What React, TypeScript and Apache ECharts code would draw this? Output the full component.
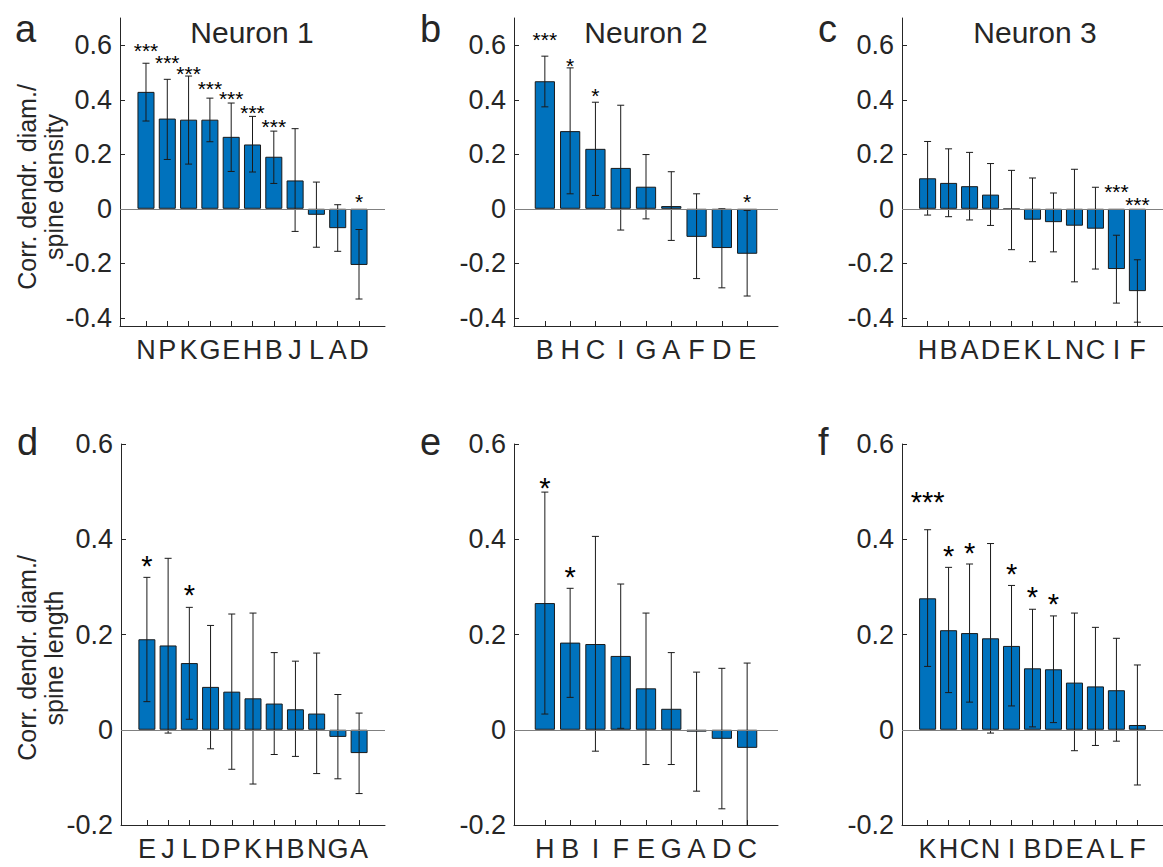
import React, { useEffect, useRef } from "react";
import * as echarts from "echarts";

// ---- Panel a (Neuron 1, spine density)
const catsA = ["N", "P", "K", "G", "E", "H", "B", "J", "L", "A", "D"];
const valsA = [0.429, 0.331, 0.327, 0.327, 0.264, 0.236, 0.191, 0.104, -0.022, -0.071, -0.206];
const hiA = [0.534, 0.475, 0.487, 0.406, 0.388, 0.339, 0.285, 0.294, 0.098, 0.015, -0.076];
const loA = [0.322, 0.181, 0.164, 0.246, 0.137, 0.135, 0.093, -0.083, -0.141, -0.156, -0.331];
const starIdxA = [1, 2, 3, 4, 5, 6, 7, 11];
const starYA = [0.6, 0.553, 0.514, 0.46, 0.421, 0.372, 0.32, 0.043];
const starTxtA = ["***", "***", "***", "***", "***", "***", "***", "*"];

// ---- Panel b (Neuron 2, spine density)
const catsB = ["B", "H", "C", "I", "G", "A", "F", "D", "E"];
const valsB = [0.468, 0.285, 0.22, 0.15, 0.081, 0.01, -0.103, -0.144, -0.165];
const hiB = [0.56, 0.517, 0.391, 0.38, 0.199, 0.136, 0.055, 0.0, -0.006];
const loB = [0.374, 0.055, 0.049, -0.078, -0.037, -0.116, -0.256, -0.29, -0.32];
const starIdxB = [1, 2, 3, 9];
const starYB = [0.639, 0.544, 0.432, 0.043];
const starTxtB = ["***", "*", "*", "*"];

// ---- Panel c (Neuron 3, spine density)
const catsC = ["H", "B", "A", "D", "E", "K", "L", "N", "C", "I", "F"];
const valsC = [0.112, 0.095, 0.083, 0.052, -0.002, -0.04, -0.049, -0.062, -0.073, -0.221, -0.302];
const hiC = [0.247, 0.22, 0.207, 0.166, 0.141, 0.113, 0.058, 0.145, 0.079, -0.097, -0.187];
const loC = [-0.023, -0.029, -0.041, -0.061, -0.15, -0.194, -0.158, -0.268, -0.221, -0.346, -0.416];
const starIdxC = [10, 11];
const starYC = [0.083, 0.034];
const starTxtC = ["***", "***"];

// ---- Panel d (Neuron 1, spine length)
const catsD = ["E", "J", "L", "D", "P", "K", "H", "B", "N", "G", "A"];
const valsD = [0.19, 0.177, 0.14, 0.09, 0.08, 0.066, 0.055, 0.043, 0.034, -0.015, -0.049];
const hiD = [0.32, 0.36, 0.257, 0.219, 0.243, 0.245, 0.162, 0.144, 0.161, 0.074, 0.035];
const loD = [0.059, -0.007, 0.022, -0.04, -0.083, -0.114, -0.052, -0.056, -0.092, -0.103, -0.134];
const starIdxD = [1, 3];
const starYD = [0.357, 0.296];
const starTxtD = ["*", "*"];

// ---- Panel e (Neuron 2, spine length)
const catsE = ["H", "B", "I", "F", "E", "G", "A", "D", "C"];
const valsE = [0.266, 0.183, 0.18, 0.155, 0.087, 0.044, -0.004, -0.019, -0.038];
const hiE = [0.499, 0.297, 0.406, 0.306, 0.245, 0.162, 0.121, 0.129, 0.14];
const loE = [0.033, 0.068, -0.045, 0.003, -0.073, -0.073, -0.129, -0.166, -0.215];
const starIdxE = [1, 2];
const starYE = [0.522, 0.334];
const starTxtE = ["*", "*"];

// ---- Panel f (Neuron 3, spine length)
const catsF = ["K", "H", "C", "N", "I", "B", "D", "E", "A", "L", "F"];
const valsF = [0.276, 0.209, 0.203, 0.192, 0.176, 0.129, 0.127, 0.099, 0.091, 0.083, 0.01];
const hiF = [0.42, 0.341, 0.348, 0.391, 0.303, 0.253, 0.239, 0.245, 0.215, 0.192, 0.136];
const loF = [0.133, 0.078, 0.058, -0.007, 0.05, 0.006, 0.015, -0.044, -0.033, -0.024, -0.116];
const starIdxF = [1, 2, 3, 5, 6, 7];
const starYF = [0.493, 0.378, 0.385, 0.341, 0.292, 0.278];
const starTxtF = ["***", "*", "*", "*", "*", "*"];

const topTicks = [-0.4, -0.2, 0, 0.2, 0.4, 0.6];
const bottomTicks = [-0.2, 0, 0.2, 0.4, 0.6];
const titles = ["Neuron 1", "Neuron 2", "Neuron 3"];
const panelLetters = ["a", "b", "c", "d", "e", "f"];
const yLabelTop = "Corr. dendr. diam./\nspine density";
const yLabelBottom = "Corr. dendr. diam./\nspine length";

const FONT = "'Liberation Sans', Arial, Helvetica, sans-serif";
const INK = "#262626";

export default function App() {
  const ref = useRef<HTMLDivElement>(null);

  useEffect(() => {
    if (!ref.current) return;
    const chart = echarts.init(ref.current, undefined, { renderer: "svg" });

    const panels = [
      { cats: catsA, vals: valsA, hi: hiA, lo: loA, sI: starIdxA, sY: starYA, sT: starTxtA, row: 0, left: 120, width: 265 },
      { cats: catsB, vals: valsB, hi: hiB, lo: loB, sI: starIdxB, sY: starYB, sT: starTxtB, row: 0, left: 514, width: 264 },
      { cats: catsC, vals: valsC, hi: hiC, lo: loC, sI: starIdxC, sY: starYC, sT: starTxtC, row: 0, left: 902, width: 265 },
      { cats: catsD, vals: valsD, hi: hiD, lo: loD, sI: starIdxD, sY: starYD, sT: starTxtD, row: 1, left: 121, width: 264 },
      { cats: catsE, vals: valsE, hi: hiE, lo: loE, sI: starIdxE, sY: starYE, sT: starTxtE, row: 1, left: 514, width: 264 },
      { cats: catsF, vals: valsF, hi: hiF, lo: loF, sI: starIdxF, sY: starYF, sT: starTxtF, row: 1, left: 902, width: 265 },
    ];

    const rows = [
      { top: 18, height: 308, min: -0.43, max: 0.7, ticks: topTicks, starFs: 21 },
      { top: 444, height: 381, min: -0.2, max: 0.6, ticks: bottomTicks, starFs: 29 },
    ];

    const grid: any[] = [];
    const xAxis: any[] = [];
    const yAxis: any[] = [];
    const series: any[] = [];

    panels.forEach((p, k) => {
      const r = rows[p.row];
      const n = p.cats.length;
      const xmin = -0.22;
      const xmax = n + 1.22;
      const spacing = p.width / (xmax - xmin);
      const idx = p.cats.map((_, i) => i + 1);
      grid.push({ left: p.left, top: r.top, width: p.width, height: r.height, containLabel: false });
      xAxis.push({
        type: "value",
        gridIndex: k,
        min: xmin,
        max: xmax,
        axisLine: { show: true, onZero: false, lineStyle: { color: INK, width: 1 } },
        axisTick: { show: true, inside: true, length: 5, customValues: idx, lineStyle: { color: INK, width: 1 } },
        axisLabel: {
          show: true,
          customValues: idx,
          formatter: (v: number) => p.cats[Math.round(v) - 1] ?? "",
          fontSize: 27,
          fontFamily: FONT,
          color: INK,
          margin: 10,
        },
        splitLine: { show: false },
      });
      yAxis.push({
        type: "value",
        gridIndex: k,
        min: r.min,
        max: r.max,
        axisLine: { show: true, onZero: false, lineStyle: { color: INK, width: 1 } },
        axisTick: { show: true, inside: true, length: 5, customValues: r.ticks, lineStyle: { color: INK, width: 1 } },
        axisLabel: {
          show: true,
          customValues: r.ticks,
          formatter: (v: number) => (Math.abs(v) < 1e-9 ? "0" : v.toFixed(1)),
          fontSize: 27,
          fontFamily: FONT,
          color: INK,
          margin: 8,
        },
        splitLine: { show: false },
      });
      series.push({
        type: "bar",
        xAxisIndex: k,
        yAxisIndex: k,
        data: p.vals.map((v, i) => [i + 1, v]),
        barWidth: spacing * 0.8,
        itemStyle: { color: "#0072BD", borderColor: "#1a1a1a", borderWidth: 1 },
        markLine: {
          silent: true,
          symbol: "none",
          label: { show: false },
          lineStyle: { color: "#808080", width: 1, type: "solid" },
          data: [{ yAxis: 0 }],
        },
        z: 2,
      });
      const ymin = r.min;
      series.push({
        type: "custom",
        xAxisIndex: k,
        yAxisIndex: k,
        data: p.vals.map((_, i) => [i + 1, p.lo[i], p.hi[i]]),
        z: 4,
        renderItem: (params: any, api: any) => {
          const x = api.value(0);
          const lo = api.value(1);
          const hi = api.value(2);
          const clipped = lo < ymin;
          const pt = api.coord([x, hi]);
          const pb = api.coord([x, clipped ? ymin : lo]);
          const cw = 3.5;
          const st = { stroke: "#1a1a1a", lineWidth: 1 };
          const children: any[] = [
            { type: "line", shape: { x1: pt[0], y1: pt[1], x2: pb[0], y2: pb[1] }, style: st },
            { type: "line", shape: { x1: pt[0] - cw, y1: pt[1], x2: pt[0] + cw, y2: pt[1] }, style: st },
          ];
          if (!clipped) {
            children.push({ type: "line", shape: { x1: pb[0] - cw, y1: pb[1], x2: pb[0] + cw, y2: pb[1] }, style: st });
          }
          return { type: "group", children };
        },
      });
      const fs = r.starFs;
      series.push({
        type: "custom",
        xAxisIndex: k,
        yAxisIndex: k,
        data: p.sI.map((i, j) => [i, p.sY[j]]),
        z: 5,
        renderItem: (params: any, api: any) => {
          const pt = api.coord([api.value(0), api.value(1)]);
          return {
            type: "text",
            x: pt[0],
            y: pt[1] + 0.23 * fs,
            style: {
              text: p.sT[params.dataIndex],
              fontSize: fs,
              fontFamily: FONT,
              fill: "#000",
              align: "center",
              verticalAlign: "middle",
            },
          };
        },
      });
    });

    const graphic: any[] = [];
    const letterPos = [
      [15, 29],
      [420, 29],
      [818, 29],
      [17, 442],
      [420, 442],
      [818, 442],
    ];
    panelLetters.forEach((L, i) => {
      graphic.push({
        type: "text",
        x: letterPos[i][0],
        y: letterPos[i][1],
        style: { text: L, fontSize: 38, fontFamily: FONT, fill: INK, align: "left", verticalAlign: "middle" },
      });
    });
    const titleX = [252, 646, 1035];
    titles.forEach((t, i) => {
      graphic.push({
        type: "text",
        x: titleX[i],
        y: 32,
        style: { text: t, fontSize: 30, fontFamily: FONT, fill: INK, align: "center", verticalAlign: "middle" },
      });
    });
    graphic.push({
      type: "text",
      x: 40,
      y: 187,
      rotation: Math.PI / 2,
      style: {
        text: yLabelTop,
        fontSize: 25,
        lineHeight: 27,
        fontFamily: FONT,
        fill: INK,
        align: "center",
        verticalAlign: "middle",
      },
    });
    graphic.push({
      type: "text",
      x: 40,
      y: 658,
      rotation: Math.PI / 2,
      style: {
        text: yLabelBottom,
        fontSize: 25,
        lineHeight: 27,
        fontFamily: FONT,
        fill: INK,
        align: "center",
        verticalAlign: "middle",
      },
    });

    chart.setOption({
      animation: false,
      backgroundColor: "#ffffff",
      grid,
      xAxis,
      yAxis,
      series,
      graphic,
    });

    return () => {
      chart.dispose();
    };
  }, []);

  return (
    <div
      ref={ref}
      style={{ position: "absolute", left: 0, top: 0, width: 1163, height: 867 }}
    />
  );
}
